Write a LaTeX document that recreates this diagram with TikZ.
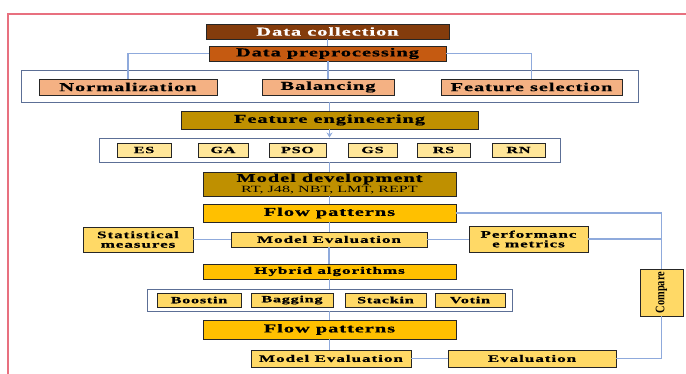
\documentclass[tikz,border=0pt]{standalone}
\usepackage{fontspec}
\setmainfont{Liberation Serif}[FakeStretch=1.7, BoldFeatures={FakeBold=0.8}]
\newfontfamily\cmpfont{Liberation Serif}[FakeStretch=0.8]
\usepackage{xcolor}
\definecolor{colCollect}{HTML}{843C0C}
\definecolor{colPrep}{HTML}{C55A11}
\definecolor{colNorm}{HTML}{F4B183}
\definecolor{colGold}{HTML}{BF9000}
\definecolor{colAmber}{HTML}{FFC000}
\definecolor{colPale}{HTML}{FFE699}
\definecolor{colLight}{HTML}{FFD966}
\definecolor{colLink}{HTML}{8FAADC}
\definecolor{colGroup}{HTML}{5C6F96}
\definecolor{colFrame}{HTML}{E8707F}
\usetikzlibrary{arrows.meta, positioning, calc}
\tikzset{
	stagebox/.style={draw=black!85, line width=0.9pt, inner sep=0pt, align=center, fill=#1},
	groupbox/.style={draw=colGroup, line width=0.9pt, fill=white, inner sep=0pt},
	linkarr/.style={draw=colLink, line width=1.1pt},
	bigtext/.style={font=\fontsize{12}{12}\selectfont\bfseries\addfontfeature{LetterSpace=8}},
	midtext/.style={font=\fontsize{10}{9.5}\selectfont\bfseries\addfontfeature{LetterSpace=10}},
	smalltext/.style={font=\fontsize{9.5}{10}\selectfont\bfseries\addfontfeature{LetterSpace=8}},
}

\begin{document}
\begin{tikzpicture}[x=1pt, y=-1pt]
	\useasboundingbox (0,0) rectangle (686,374);
	\draw[colFrame, line width=1.2pt] (686,14) -- (8,14) -- (8,374);
	% preprocessing
	\node[stagebox=colCollect, text=white, bigtext, minimum width=243pt, minimum height=15pt] (dcol) at (327.5,31.5) {Data collection};
	\node[stagebox=colPrep, bigtext, minimum width=237pt, minimum height=15pt] (dpre) at (327.5,53.5) {Data preprocessing};
	\node[groupbox, minimum width=617pt, minimum height=32pt] (grpA) at (329.5,86) {};
	\node[stagebox=colNorm, bigtext, minimum width=178pt, minimum height=16pt] (norm) at (128,87) {Normalization};
	\node[stagebox=colNorm, bigtext, minimum width=132pt, minimum height=16pt] (bal) at (328,87) {Balancing};
	\node[stagebox=colNorm, bigtext, minimum width=181pt, minimum height=16pt] (fsel) at (531.5,87) {Feature selection};
	% feature engineering
	\node[stagebox=colGold, bigtext, minimum width=297pt, minimum height=18pt] (feng) at (329.5,120) {Feature engineering};
	\node[groupbox, minimum width=461pt, minimum height=24pt] (grpB) at (329.5,150) {};
	\node[stagebox=colPale, smalltext, minimum width=54pt, minimum height=14pt] (es) at (144,150) {ES};
	\node[stagebox=colPale, smalltext, minimum width=50pt, minimum height=14pt] (ga) at (223,150) {GA};
	\node[stagebox=colPale, smalltext, minimum width=57pt, minimum height=14pt] (pso) at (297.5,150) {PSO};
	\node[stagebox=colPale, smalltext, minimum width=49pt, minimum height=14pt] (gs) at (372.5,150) {GS};
	\node[stagebox=colPale, smalltext, minimum width=53pt, minimum height=14pt] (rs) at (443.5,150) {RS};
	\node[stagebox=colPale, smalltext, minimum width=53pt, minimum height=14pt] (rn) at (518.5,150) {RN};
	% model development and evaluation
	\node[stagebox=colGold, bigtext, minimum width=253pt, minimum height=24pt] (mdev) at (329.5,184) {Model development\\[-1pt]{\mdseries\fontsize{9.5}{9}\selectfont\addfontfeature{LetterSpace=0}RT, J48, NBT, LMT, REPT}};
	\node[stagebox=colAmber, bigtext, minimum width=253pt, minimum height=18pt] (flowA) at (329.5,213) {Flow patterns};
	\node[stagebox=colLight, midtext, minimum width=196pt, minimum height=15pt] (evalA) at (329,239.5) {Model Evaluation};
	\node[stagebox=colLight, midtext, minimum width=110pt, minimum height=25pt] (stat) at (138,239.5) {Statistical\\measures};
	\node[stagebox=colLight, midtext, minimum width=119pt, minimum height=26pt] (perf) at (528.5,239) {Performanc\\e metrics};
	% hybrid algorithms
	\node[stagebox=colAmber, midtext, minimum width=253pt, minimum height=15pt] (hyb) at (329.5,271.5) {Hybrid algorithms};
	\node[groupbox, minimum width=365pt, minimum height=22pt] (grpC) at (329.5,300) {};
	\node[stagebox=colLight, smalltext, minimum width=84pt, minimum height=14pt] (boost) at (199,300) {Boostin};
	\node[stagebox=colLight, smalltext, minimum width=82pt, minimum height=14pt] (bag) at (292,300) {Bagging};
	\node[stagebox=colLight, smalltext, minimum width=81pt, minimum height=14pt] (stack) at (385.5,300) {Stackin};
	\node[stagebox=colLight, smalltext, minimum width=70pt, minimum height=14pt] (vote) at (470,300) {Votin};
	\node[stagebox=colAmber, bigtext, minimum width=253pt, minimum height=19pt] (flowB) at (329.5,329.5) {Flow patterns};
	\node[stagebox=colLight, midtext, minimum width=160pt, minimum height=17pt] (evalB) at (331,358.5) {Model Evaluation};
	\node[stagebox=colLight, midtext, minimum width=168pt, minimum height=17pt] (evalC) at (532,358.5) {Evaluation};
	\node[stagebox=colLight, font=\cmpfont\bfseries\fontsize{13}{13}\selectfont, minimum width=43pt, minimum height=47pt] (cmp) at (661.5,292.5) {\rotatebox{90}{Compare}};
	% connectors
	\draw[linkarr] (dcol.south) -- (dcol.south |- dpre.north);
	\draw[linkarr] (dpre.west) -| (norm.north);
	\draw[linkarr] (dpre.east) -| (fsel.north);
	\draw[linkarr] (bal.north |- dpre.south) -- (bal.north);
	\draw[linkarr] (grpA.south) -- (grpA.south |- feng.north);
	\draw[linkarr, -{Stealth[length=5pt, width=6pt]}] (feng.south) -- (grpB.north);
	\draw[linkarr] (grpB.south) -- (grpB.south |- mdev.north);
	\draw[linkarr] (mdev.south) -- (flowA.north);
	\draw[linkarr] (flowA.south) -- (flowA.south |- evalA.north);
	\draw[linkarr] (evalA.south) -- (evalA.south |- hyb.north);
	\draw[linkarr] (stat.east) -- (evalA.west);
	\draw[linkarr] (evalA.east) -- (evalA.east -| perf.west);
	\draw[linkarr] (flowA.east) -| (cmp.north);
	\draw[linkarr] (perf.east) -- (perf.east -| cmp.north);
	\draw[linkarr] (hyb.south) -- (grpC.north);
	\draw[linkarr] (grpC.south) -- (flowB.north);
	\draw[linkarr] (flowB.south) -- (flowB.south |- evalB.north);
	\draw[linkarr] (evalB.east) -- (evalC.west);
	\draw[linkarr] (cmp.south) |- (evalC.east);
\end{tikzpicture}
\end{document}
